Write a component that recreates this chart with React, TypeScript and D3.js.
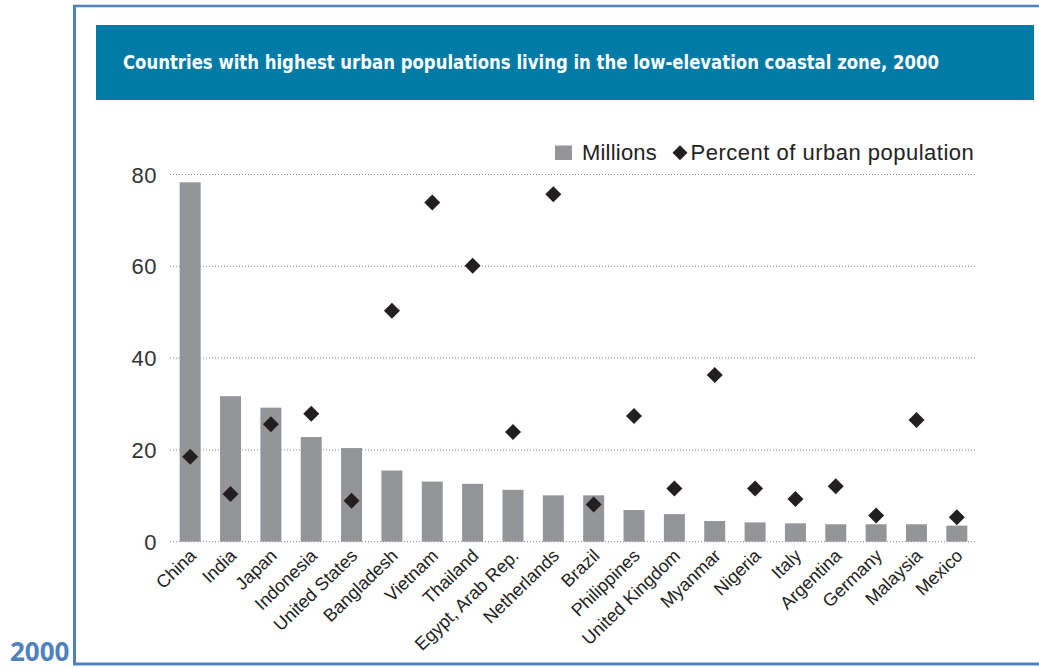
import React from "react";
import * as d3 from "d3";

const countries = [
  "China", "India", "Japan", "Indonesia", "United States", "Bangladesh", "Vietnam",
  "Thailand", "Egypt, Arab Rep.", "Netherlands", "Brazil", "Philippines",
  "United Kingdom", "Myanmar", "Nigeria", "Italy", "Argentina", "Germany",
  "Malaysia", "Mexico",
];
const millions = [
  78.3, 31.7, 29.2, 22.8, 20.4, 15.5, 13.1, 12.6, 11.3, 10.1,
  10.1, 6.9, 6.0, 4.5, 4.2, 4.0, 3.8, 3.8, 3.8, 3.5,
];
const percentUrban = [
  18.5, 10.4, 25.6, 27.9, 8.9, 50.3, 73.9, 60.1, 23.9, 75.7,
  8.1, 27.4, 11.6, 36.3, 11.6, 9.3, 12.1, 5.7, 26.5, 5.3,
];
const yTicks = [0, 20, 40, 60, 80];
const titleText = "Countries with highest urban populations living in the low-elevation coastal zone, 2000";
const legendLabels = ["Millions", "Percent of urban population"];
const footText = "2000";

const W = 1039;
const H = 668;
const FRAME = "#4f81bd";
const BANNER = "#027aa6";
const BAR = "#939598";
const DOT = "#231f20";
const FONT = "'Liberation Sans', Arial, sans-serif";

export default function App() {
  const x = d3.scaleBand<string>().domain(countries).range([170, 977]).paddingInner(0.48).paddingOuter(0.24);
  const y = d3.scaleLinear().domain([0, 80]).range([541.7, 174.5]);
  const diamond = d3.symbol().type(d3.symbolSquare).size(128)() as string;
  const legendDiamond = d3.symbol().type(d3.symbolSquare).size(112)() as string;

  return (
    <div style={{ position: "absolute", left: 0, top: 0 }}>
      <svg width={W} height={H} style={{ display: "block", background: "#ffffff" }}>
        {/* frame */}
        <line x1={73} x2={W} y1={6} y2={6} stroke={FRAME} strokeWidth={2.5} />
        <line x1={74.5} x2={74.5} y1={5} y2={665} stroke={FRAME} strokeWidth={3} />
        <line x1={73} x2={W} y1={664} y2={664} stroke={FRAME} strokeWidth={3} />
        <text x={10} y={661} fill={FRAME} fontFamily="'Open Sans', sans-serif" fontWeight={700} fontSize={26}>
          {footText}
        </text>

        {/* banner */}
        <rect x={96} y={25} width={938} height={75} fill={BANNER} />
        <text
          x={123}
          y={69}
          fill="#ffffff"
          fontFamily="'DejaVu Sans Condensed', 'DejaVu Sans', sans-serif"
          style={{ fontStretch: "condensed" }}
          fontWeight={700}
          fontSize={20}
          textLength={816}
          lengthAdjust="spacingAndGlyphs"
        >
          {titleText}
        </text>

        {/* gridlines and y ticks */}
        {yTicks.map((t) => (
          <g key={t}>
            <line x1={170} x2={977} y1={y(t)} y2={y(t)} stroke="#8a8a8a" strokeWidth={1} strokeDasharray="1,2" />
            <text x={157} y={y(t) + 8} textAnchor="end" fontFamily={FONT} fontSize={22} fill="#333333" letterSpacing={0.5}>
              {t}
            </text>
          </g>
        ))}

        {/* bars */}
        {countries.map((c, i) => (
          <rect
            key={c}
            x={x(c)!}
            y={y(millions[i])}
            width={x.bandwidth()}
            height={y(0) - y(millions[i])}
            fill={BAR}
          />
        ))}

        {/* diamonds */}
        {countries.map((c, i) => (
          <path
            key={c + "-d"}
            d={diamond}
            fill={DOT}
            transform={`translate(${x(c)! + x.bandwidth() / 2},${y(percentUrban[i])}) rotate(45)`}
          />
        ))}

        {/* x labels */}
        {countries.map((c) => (
          <text
            key={c + "-l"}
            transform={`translate(${x(c)! + x.bandwidth() / 2 + 7},${557}) rotate(-44)`}
            textAnchor="end"
            fontFamily={FONT}
            fontSize={18}
            fill="#222222"
          >
            {c}
          </text>
        ))}

        {/* legend */}
        <rect x={555} y={145.5} width={17} height={14.5} fill={BAR} />
        <text x={582} y={160} fontFamily={FONT} fontSize={22} fill="#222222" letterSpacing={0.2}>
          {legendLabels[0]}
        </text>
        <path d={legendDiamond} fill={DOT} transform="translate(680,152.7) rotate(45)" />
        <text x={690.5} y={160} fontFamily={FONT} fontSize={22} fill="#222222" letterSpacing={0.5}>
          {legendLabels[1]}
        </text>
      </svg>
    </div>
  );
}
